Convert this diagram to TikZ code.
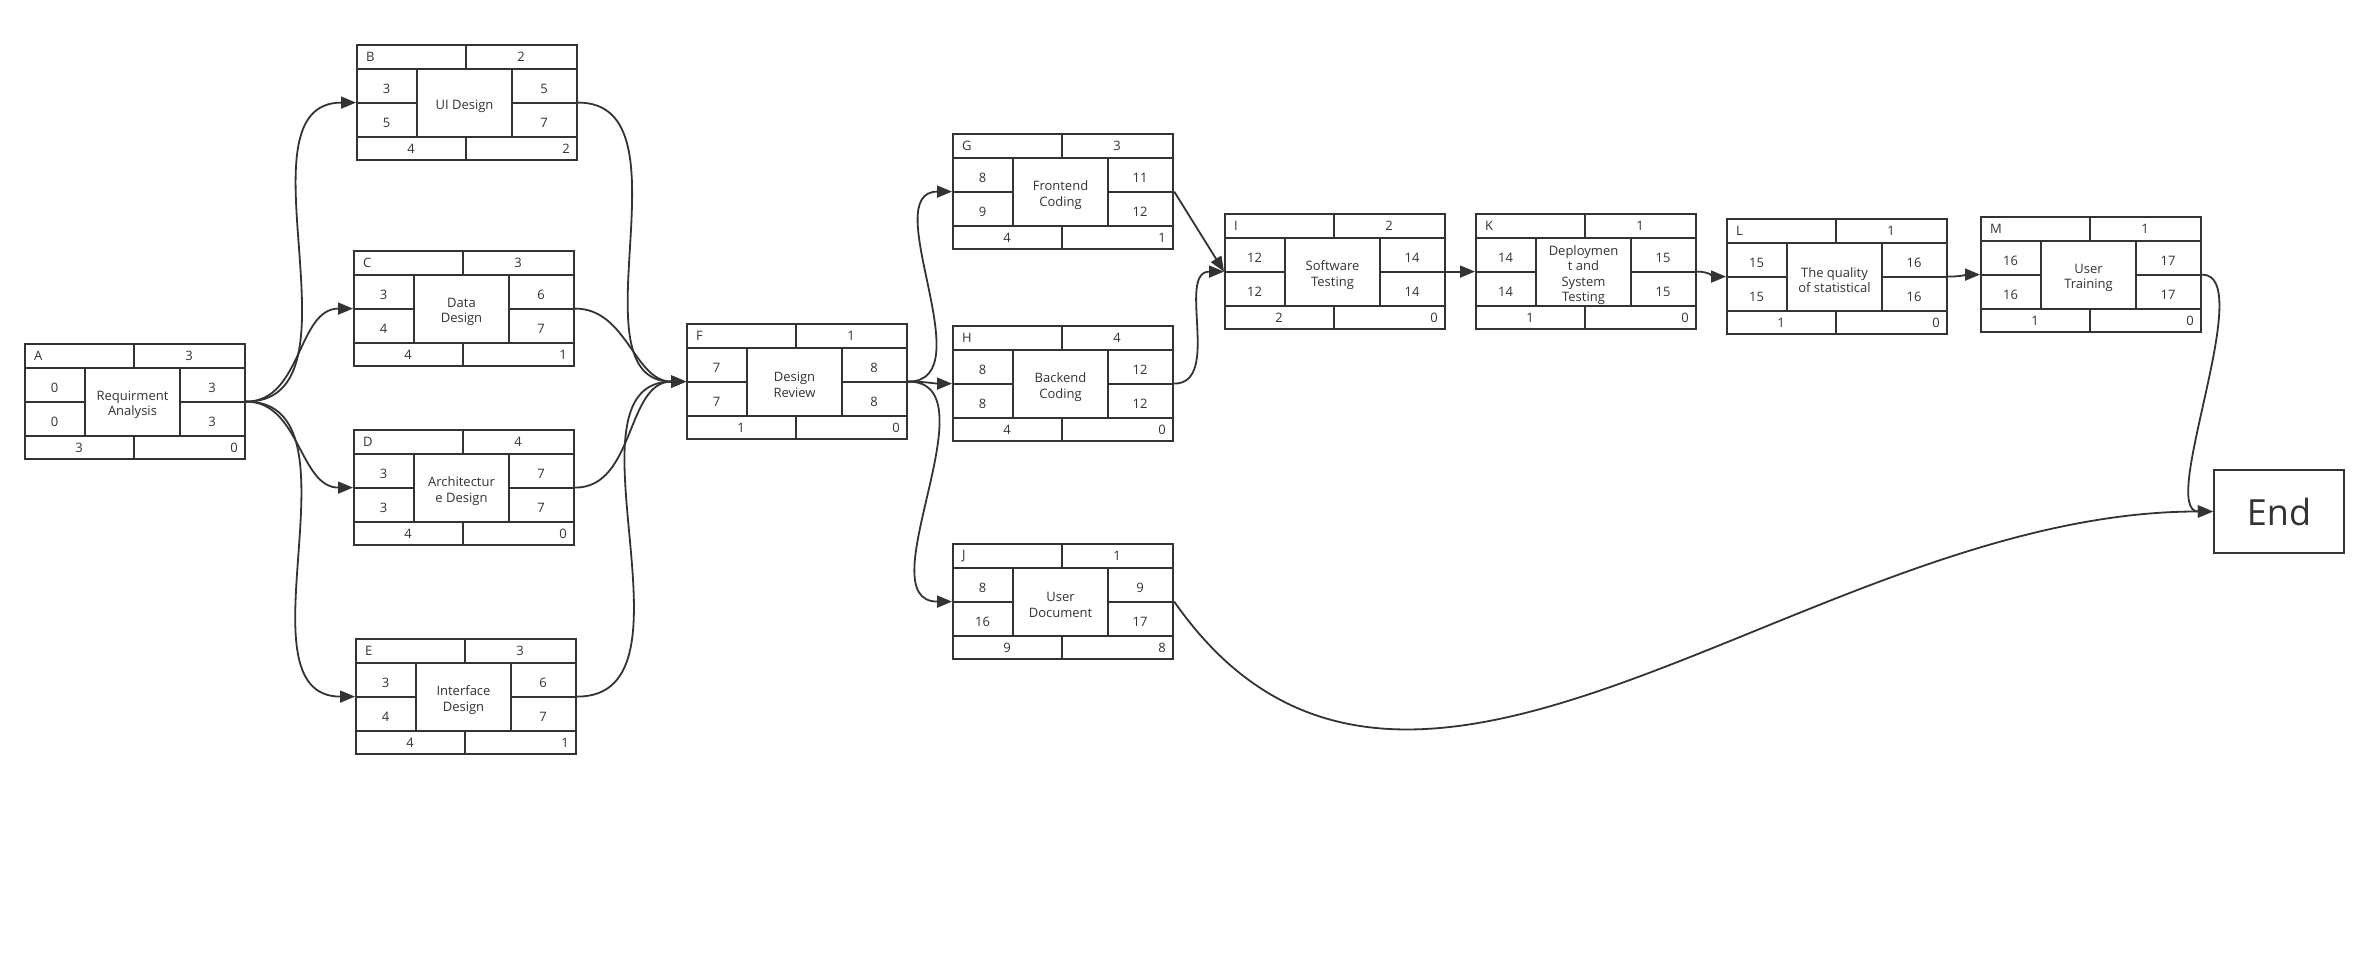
\documentclass[tikz,border=0pt]{standalone}
\usepackage{fontspec}
\setmainfont{Open Sans}
\usepackage{tikz}
\usetikzlibrary{arrows.meta}
\definecolor{ink}{HTML}{333333}
\tikzstyle{actbox}=[draw=ink, line width=2.2pt, minimum width=220pt, minimum height=115pt, inner sep=0pt, anchor=north west]
\tikzstyle{cellline}=[draw=ink, line width=1.8pt]
\tikzstyle{num}=[font=\fontsize{13}{15.5}\selectfont, text=ink, inner sep=0pt]
\tikzstyle{actlabel}=[font=\fontsize{13}{15.5}\selectfont, text=ink, align=center, inner sep=0pt]
\tikzstyle{endbox}=[draw=ink, line width=2.2pt, minimum width=130pt, minimum height=83pt, inner sep=0pt, font=\fontsize{36}{40}\selectfont, text=ink]
\tikzstyle{dep}=[draw=ink, line width=1.8pt, -{Triangle[length=15pt,width=12pt]}]

\begin{document}
\begin{tikzpicture}[x=1pt, y=-1pt]

    \fill[white] (0,0) rectangle (2368,971);
    \useasboundingbox (0,0) rectangle (2368,971);

    % activity boxes: name/x/y/id/duration/label/top-left/bottom-left/top-right/bottom-right/foot-left/foot-right
    \foreach \n/\x/\y/\id/\dur/\txt/\es/\ls/\ef/\lf/\tf/\ff in {
        A/24/343/A/3/Requirment\\Analysis/0/0/3/3/3/0,
        B/356/44/B/2/UI Design/3/5/5/7/4/2,
        C/353/250/C/3/Data\\Design/3/4/6/7/4/1,
        D/353/429/D/4/Architectur\\e Design/3/3/7/7/4/0,
        E/355/638/E/3/Interface\\Design/3/4/6/7/4/1,
        F/686/323/F/1/Design\\Review/7/7/8/8/1/0,
        G/952/133/G/3/Frontend\\Coding/8/9/11/12/4/1,
        H/952/325/H/4/Backend\\Coding/8/8/12/12/4/0,
        J/952/543/J/1/User\\Document/8/16/9/17/9/8,
        I/1224/213/I/2/Software\\Testing/12/12/14/14/2/0,
        K/1475/213/K/1/Deploymen\\t and\\System\\Testing/14/14/15/15/1/0,
        L/1726/218/L/1/The quality\\of statistical/15/15/16/16/1/0,
        M/1980/216/M/1/User\\Training/16/16/17/17/1/0 }
    {
        \node[actbox] (\n) at (\x, \y) {};
        \draw[cellline] (\x, \y+25) -- (\x+220, \y+25);
        \draw[cellline] (\x, \y+93) -- (\x+220, \y+93);
        \draw[cellline] (\x+110, \y) -- (\x+110, \y+25);
        \draw[cellline] (\x+110, \y+93) -- (\x+110, \y+115);
        \draw[cellline] (\x+61, \y+25) -- (\x+61, \y+93);
        \draw[cellline] (\x+156, \y+25) -- (\x+156, \y+93);
        \draw[cellline] (\x, \y+59) -- (\x+61, \y+59);
        \draw[cellline] (\x+156, \y+59) -- (\x+220, \y+59);
        \node[num, anchor=west] (\n-id) at (\x+10, \y+13) {\id};
        \node[num] (\n-dur) at (\x+165, \y+13) {\dur};
        \node[actlabel] (\n-txt) at (\x+108.5, \y+62) {\txt};
        \node[num] (\n-es) at (\x+30.5, \y+45) {\es};
        \node[num] (\n-ls) at (\x+30.5, \y+79) {\ls};
        \node[num] (\n-ef) at (\x+188, \y+45) {\ef};
        \node[num] (\n-lf) at (\x+188, \y+79) {\lf};
        \node[num] (\n-tf) at (\x+55, \y+105) {\tf};
        \node[num, anchor=east] (\n-ff) at (\x+214, \y+105) {\ff};
    }

    \node[endbox] (End) at (2279, 511.5) {End};

    \foreach \src/\dst in {A/B, A/C, A/D, A/E, B/F, C/F, D/F, E/F, F/G, F/H, F/J, H/I, I/K, K/L, L/M}
        \draw[dep] (\src.east) to[out=0, in=180] (\dst.west);

    \draw[dep] (G.east) -- (I.west);
    \draw[dep] (M.east) to[out=0, in=180, looseness=0.6] (End.west);
    \draw[dep] (J.east) .. controls (1407,935) and (1805,511) .. (End.west);

\end{tikzpicture}
\end{document}
